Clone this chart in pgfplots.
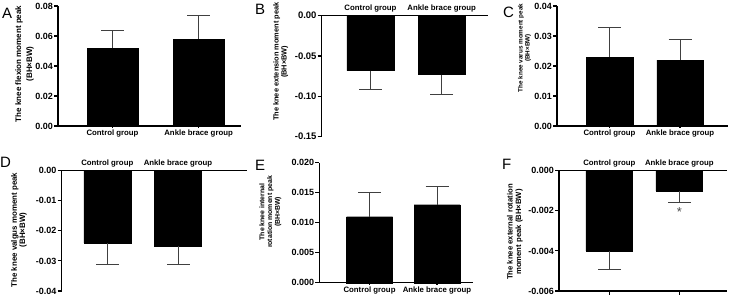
\documentclass[border=0pt]{standalone}
\usepackage{fontspec}
\setmainfont{Liberation Sans}
\usepackage{pgfplots}
\pgfplotsset{compat=1.18}
\pgfplotsset{
 panel/.style={
  scale only axis, anchor=south west, ybar, bar width=47pt,
  axis y line=left,
  xtick={0,1}, xticklabels={Control group, Ankle brace group},
  tick align=outside, major tick length=4pt,
  tick style={line width=1.1pt, black},
  scaled y ticks=false,
  /pgf/number format/assume math mode=true,
  yticklabel style={font=\bfseries\fontsize{9}{10}\selectfont, inner sep=1pt},
  xticklabel style={font=\bfseries\fontsize{7.8}{9}\selectfont, inner sep=1.5pt},
  ylabel style={align=center, anchor=center},
  error bars/error bar style={line width=0.8pt, black!75},
  error bars/error mark options={line width=0.8pt, black!75, mark size=11.5pt, rotate=90},
  clip=false,
 },
 noarrow/.style={axis line style={-, line width=1.1pt},
  every inner x axis line/.append style={-}, every inner y axis line/.append style={-},
  every outer x axis line/.append style={-}, every outer y axis line/.append style={-}},
 p2/.style={yticklabel style={/pgf/number format/fixed, /pgf/number format/fixed zerofill, /pgf/number format/precision=2}},
 p3/.style={yticklabel style={/pgf/number format/fixed, /pgf/number format/fixed zerofill, /pgf/number format/precision=3}},
 barplot/.style={fill=black, draw=black},
}
\begin{document}
\begin{tikzpicture}
\useasboundingbox (0,0) rectangle (730pt,301pt);
% A
\begin{axis}[panel, p2, at={(58pt,175pt)}, width=182.7pt, height=120pt,
 xmin=-0.633, xmax=1.489, ymin=0, ymax=0.08, ytick={0,0.02,0.04,0.06,0.08},
 bar width=50.5pt, axis x line=bottom, noarrow,
 ylabel={The knee flexion moment peak\\(BH×BW)},
 ylabel style={font=\bfseries\fontsize{8}{11}\selectfont, at={([xshift=-33.5pt]axis description cs:0,0.517)}}]
\addplot[barplot, error bars/.cd, y dir=plus, y explicit] coordinates {(0,0.052) +- (0,0.012) (1,0.058) +- (0,0.016)};
\end{axis}
% B
\begin{axis}[panel, p2, at={(321.7pt,164.3pt)}, width=166.3pt, height=121pt,
 xmin=-0.685, xmax=1.650, ymin=-0.15, ymax=0, ytick={-0.15,-0.10,-0.05,0},
 bar width=47pt, axis x line=top, xtick style={draw=none}, noarrow,
 yticklabel style={font=\bfseries\fontsize{9.5}{10}\selectfont},
 ylabel={The knee extension moment peak\\(BH×BW)},
 ylabel style={font=\bfseries\fontsize{7.4}{7.8}\selectfont, at={([xshift=-41pt]axis description cs:0,0.62)}}]
\addplot[barplot, error bars/.cd, y dir=minus, y explicit] coordinates {(0,-0.068) +- (0,0.023) (1,-0.073) +- (0,0.025)};
\end{axis}
% C
\begin{axis}[panel, p2, at={(557pt,175pt)}, width=171pt, height=120pt,
 xmin=-0.745, xmax=1.681, ymin=0, ymax=0.04, ytick={0,0.01,0.02,0.03,0.04},
 bar width=46.5pt, axis x line=bottom, noarrow,
 ylabel={The knee varus moment peak\\(BH×BW)},
 ylabel style={font=\bfseries\fontsize{6.3}{7}\selectfont, at={([xshift=-32.5pt]axis description cs:0,0.65)}}]
\addplot[barplot, error bars/.cd, y dir=plus, y explicit] coordinates {(0,0.023) +- (0,0.010) (1,0.022) +- (0,0.007)};
\end{axis}
% D
\begin{axis}[panel, p2, at={(61.7pt,10pt)}, width=185.3pt, height=120.3pt,
 xmin=-0.645, xmax=1.976, ymin=-0.04, ymax=0, ytick={-0.04,-0.03,-0.02,-0.01,0},
 bar width=47pt, axis x line=top, xtick style={draw=none}, noarrow,
 ylabel={The knee valgus moment peak\\(BH×BW)},
 ylabel style={font=\bfseries\fontsize{7.9}{8.3}\selectfont, at={([xshift=-42.7pt]axis description cs:0,0.507)}}]
\addplot[barplot, error bars/.cd, y dir=minus, y explicit] coordinates {(0,-0.024) +- (0,0.007) (1,-0.025) +- (0,0.006)};
\end{axis}
% E
\begin{axis}[panel, p3, at={(319.3pt,18.3pt)}, width=153.7pt, height=120pt,
 xmin=-0.744, xmax=1.533, ymin=0, ymax=0.02, ytick={0,0.005,0.01,0.015,0.02},
 bar width=46pt, axis x line=bottom, noarrow,
 ylabel={The knee internal\\rotation moment peak\\(BH×BW)},
 ylabel style={font=\bfseries\fontsize{6.9}{7.7}\selectfont, at={([xshift=-49pt]axis description cs:0,0.59)}}]
\addplot[barplot, error bars/.cd, y dir=plus, y explicit] coordinates {(0,0.011) +- (0,0.004) (1,0.013) +- (0,0.003)};
\end{axis}
% F
\begin{axis}[panel, p3, at={(559pt,10pt)}, width=168pt, height=120.3pt,
 xmin=-0.719, xmax=1.681, ymin=-0.006, ymax=0, ytick={-0.006,-0.004,-0.002,0},
 bar width=46.7pt, axis x line=top, xtick style={draw=none}, noarrow,
 ylabel={The knee external rotation\\moment peak (BH×BW)},
 ylabel style={font=\bfseries\fontsize{7.7}{8.5}\selectfont, at={([xshift=-44pt]axis description cs:0,0.49)}}]
\addplot[barplot, error bars/.cd, y dir=minus, y explicit] coordinates {(0,-0.004) +- (0,0.0009) (1,-0.001) +- (0,0.0006)};
\draw[line width=1.1pt] (rel axis cs:0,0) -- (rel axis cs:1,0);
\draw[line width=1.1pt] (axis cs:0,-0.006) -- ([yshift=-4pt]axis cs:0,-0.006);
\draw[line width=1.1pt] (axis cs:1,-0.006) -- ([yshift=-4pt]axis cs:1,-0.006);
\node[text=black!70, font=\fontsize{13}{13}\selectfont, inner sep=0] at (axis cs:1,-0.00205) {*};
\end{axis}
% panel letters
\node[anchor=base west, font=\fontsize{15}{15}\selectfont, inner sep=0] at (2pt,283pt) {A};
\node[anchor=base west, font=\fontsize{15}{15}\selectfont, inner sep=0] at (255pt,287pt) {B};
\node[anchor=base west, font=\fontsize{15}{15}\selectfont, inner sep=0] at (503pt,284pt) {C};
\node[anchor=base west, font=\fontsize{15}{15}\selectfont, inner sep=0] at (0pt,134pt) {D};
\node[anchor=base west, font=\fontsize{15}{15}\selectfont, inner sep=0] at (255pt,131pt) {E};
\node[anchor=base west, font=\fontsize{15}{15}\selectfont, inner sep=0] at (502pt,132pt) {F};
\end{tikzpicture}
\end{document}
